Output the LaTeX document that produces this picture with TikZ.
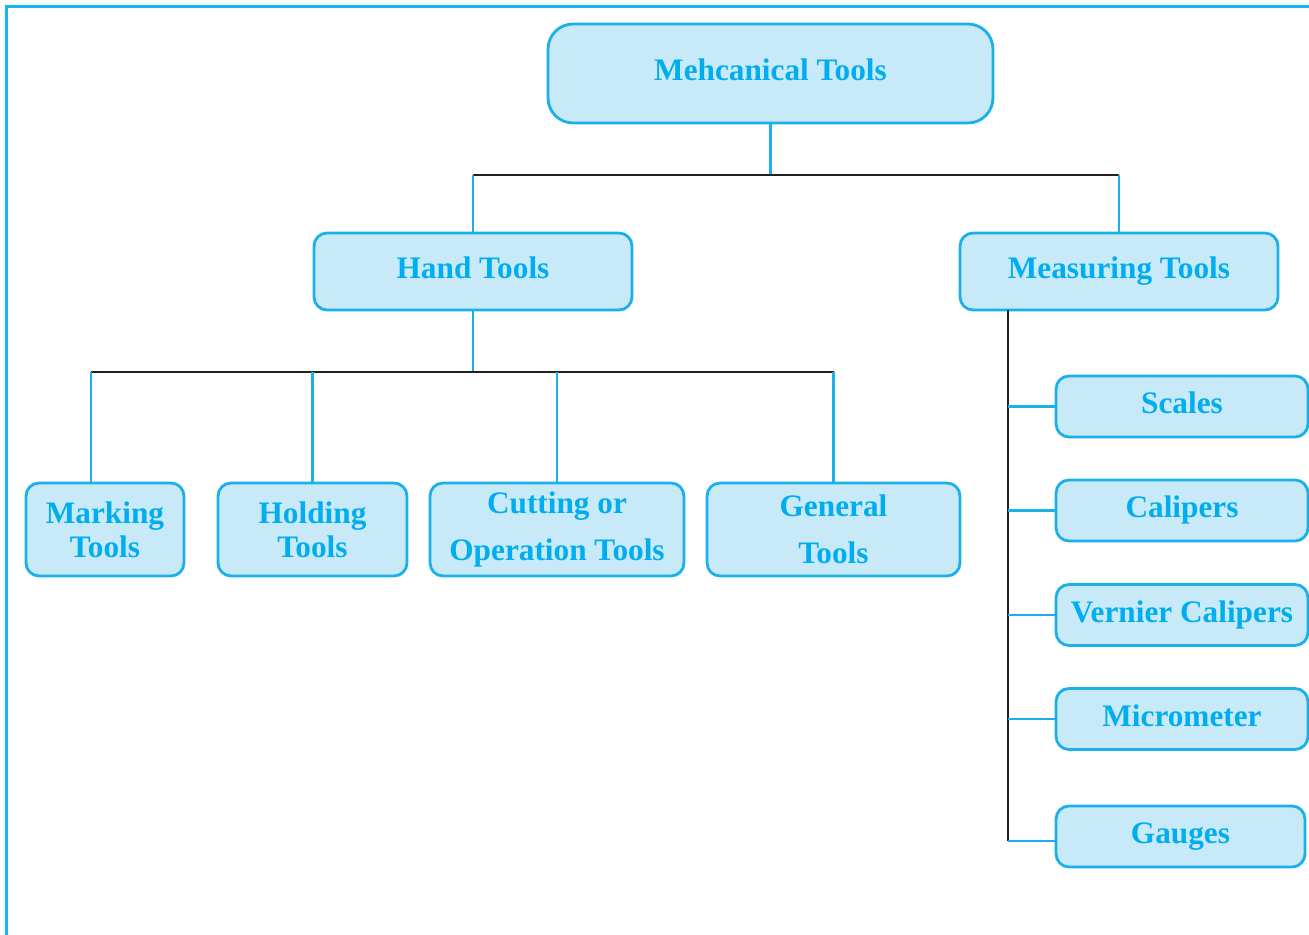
\documentclass[tikz,border=0pt]{standalone}
\usepackage{fontspec}
\setmainfont{Liberation Serif}
\usetikzlibrary{positioning}

\definecolor{toolcyan}{HTML}{00AEEF}
\definecolor{toolfill}{HTML}{C8E9F8}
\definecolor{toolline}{HTML}{1BB0E8}
\definecolor{framecyan}{HTML}{12B8F0}
\definecolor{barblack}{HTML}{231F20}

\tikzset{
  tool/.style={draw=toolline,fill=toolfill,line width=1.6pt,
    rounded corners=0.26cm,inner sep=0pt,align=center,
    text=toolcyan,font=\fontsize{17.8}{19.5}\selectfont\bfseries},
  single/.style={text height=12pt,text depth=4pt},
  leaf/.style={tool,single,minimum width=5.04cm,minimum height=1.22cm},
  link/.style={toolline,line width=1.5pt},
  bar/.style={barblack,line width=1.1pt}
}

\begin{document}
\begin{tikzpicture}[x=0.02cm,y=-0.02cm]
  \useasboundingbox (0,0) rectangle (1309,935);
  \draw[framecyan,line width=1.8pt](6.5,935)--(6.5,6.5)--(1309,6.5);

  % top levels
  \node[tool,single,minimum width=8.9cm,minimum height=1.98cm,rounded corners=0.5cm]
    (mech) at (770.5,73.5) {Mehcanical Tools};
  \node[tool,single,minimum width=6.36cm,minimum height=1.54cm] (hand) at (473,271.5) {Hand Tools};
  \node[tool,single,minimum width=6.36cm,minimum height=1.54cm] (meas) at (1119,271.5) {Measuring Tools};

  % hand tools
  \node[tool,minimum width=3.16cm,minimum height=1.86cm] (mark) at (105,529.5) {Marking\\Tools};
  \node[tool,minimum width=3.78cm,minimum height=1.86cm] (hold) at (312.5,529.5) {Holding\\Tools};
  \node[tool,minimum width=5.08cm,minimum height=1.86cm,
    font=\fontsize{17.8}{26.5}\selectfont\bfseries] (cut) at (557,529.5) {Cutting or\\Operation Tools};
  \node[tool,minimum width=5.06cm,minimum height=1.86cm,
    font=\fontsize{17.8}{26.5}\selectfont\bfseries] (gen) at (833.5,529.5) {General\\Tools};

  % measuring tools
  \node[leaf] (scale) at (1182,406.5) {Scales};
  \node[leaf] (calip) at (1182,510.5) {Calipers};
  \node[leaf] (vern) at (1182,615) {Vernier Calipers};
  \node[leaf] (micro) at (1182,719) {Micrometer};
  \node[leaf,minimum width=4.98cm] (gauge) at (1180.5,836.5) {Gauges};

  % joints
  \coordinate (top) at (770.5,175);
  \coordinate (mid) at (473,372);
  \coordinate (mk) at (91,372);
  \coordinate (trunk) at (1008,310);
  \coordinate (foot) at (1008,841);

  \draw[link](mech)--(top);
  \draw[bar](hand.north|-top)--(meas.north|-top);
  \draw[link](hand.north|-top)--(hand.north);
  \draw[link](meas.north|-top)--(meas.north);

  \draw[link](hand)--(mid);
  \draw[bar](mk)--(gen.north|-mid);
  \draw[link](mk)--(mk|-mark.north);
  \draw[link](hold.north|-mid)--(hold.north);
  \draw[link](cut.north|-mid)--(cut.north);
  \draw[link](gen.north|-mid)--(gen.north);

  \draw[bar](trunk)--(foot);
  \foreach \n in {scale,calip,vern,micro}
    \draw[link](trunk|-\n.west)--(\n.west);
  \draw[link](foot)--(foot-|gauge.west);
\end{tikzpicture}
\end{document}
